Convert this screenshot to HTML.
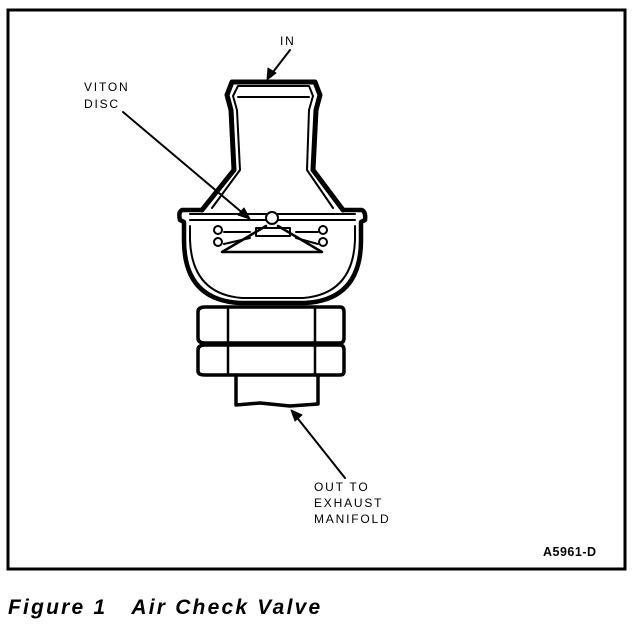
<!DOCTYPE html>
<html><head><style>
body{margin:0;width:640px;height:630px;background:#fff;overflow:hidden}
svg{display:block}
text{font-family:"Liberation Sans",sans-serif;fill:#000}
</style></head><body>
<svg width="640" height="630" viewBox="0 0 640 630">
<rect x="8" y="10" width="617" height="559" fill="none" stroke="#000" stroke-width="3"/>
<g font-size="12" letter-spacing="1.8">
<text x="280" y="45">IN</text>
<text x="84" y="91">VITON</text>
<text x="84" y="108">DISC</text>
<text x="314" y="491">OUT TO</text>
<text x="314" y="507">EXHAUST</text>
<text x="314" y="523">MANIFOLD</text>
<text x="543" y="556" font-weight="bold" font-size="12.5" letter-spacing="0.5">A5961-D</text>
</g>
<text x="8" y="614" font-size="21" font-style="italic" font-weight="bold" letter-spacing="2.2">Figure 1 &#160;&#160;Air Check Valve</text>
<g stroke="#000" fill="none" stroke-linecap="round" stroke-linejoin="round">
<line x1="290" y1="50" x2="270" y2="76" stroke-width="2"/>
<polygon points="267,80 268,68 276,73" fill="#000"/>
<line x1="123" y1="112" x2="245" y2="215" stroke-width="2"/>
<polygon points="250,219 238,215 244,208" fill="#000"/>
<line x1="345" y1="478" x2="295" y2="415" stroke-width="2"/>
<polygon points="291,410 302,415 295,421" fill="#000"/>
<path d="M232,82 L315,82 L320,95 L316,110 L313,170 L343,210 M232,82 L227,95 L231,110 L234,170 L202,210" stroke-width="5"/>
<path d="M238,86 L309,86 L313,96 L309,110 L307,170 L333,208 M238,86 L233,96 L237,110 L240,170 L212,208" stroke-width="2"/>
<line x1="238" y1="97" x2="309" y2="97" stroke-width="2"/>
<path d="M202,210 L182,210 Q178,212 180,220 L184,222 L184,240 Q184,300 240,303 L305,303 Q361,300 361,240 L361,222 L365,220 Q366,212 362,210 L343,210" stroke-width="4.5"/>
<path d="M190,214 L355,214 M190,220 L355,220" stroke-width="2"/>
<path d="M190,226 L190,240 Q192,294 242,298 L303,298 Q353,294 355,240 L355,226" stroke-width="2"/>
<circle cx="272" cy="218" r="6" fill="#fff" stroke-width="2"/>
<rect x="256" y="228" width="34" height="8" stroke-width="2"/>
<path d="M222,252 L266,226 M322,252 L278,226 M222,252 L322,252" stroke-width="2.5"/>
<circle cx="218" cy="230" r="4" stroke-width="2"/><circle cx="323" cy="230" r="4" stroke-width="2"/>
<circle cx="218" cy="242" r="4" stroke-width="2"/><circle cx="323" cy="242" r="4" stroke-width="2"/>
<path d="M224,232 L250,232 M296,232 L318,232 M224,244 L250,238 M296,238 L318,244" stroke-width="2"/>
<path d="M205,307 L340,307 Q344,307 344,312 L344,338 Q344,343 340,343 L205,343 Q198,343 198,338 L198,312 Q198,307 205,307 Z" stroke-width="3.5"/>
<path d="M205,345 L340,345 Q344,345 344,350 L344,371 Q344,375 340,375 L205,375 Q198,375 198,371 L198,350 Q198,345 205,345 Z" stroke-width="3.5"/>
<path d="M228,307 L228,375 M315,307 L315,375" stroke-width="2.5"/>
<path d="M236,375 L236,405 L260,403 L290,406 L318,404 L318,375" stroke-width="3.5"/>
</g>
</svg>
</body></html>
